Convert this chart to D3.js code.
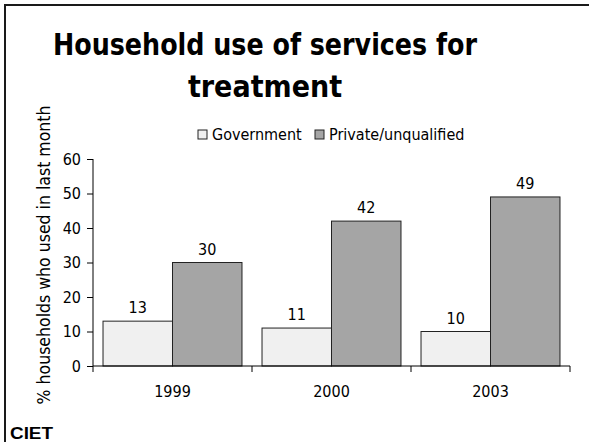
<!DOCTYPE html>
<html>
<head>
<meta charset="utf-8">
<script src="https://cdn.jsdelivr.net/npm/d3@7"></script>
<style>
  body { margin: 0; background: #fff; }
  svg { display: block; }
  text { font-family: "DejaVu Sans Condensed", "DejaVu Sans", sans-serif; font-stretch: condensed; fill: #000; }
</style>
</head>
<body>
<svg></svg>
<script>
// chart values
let years = ['1999', '2000', '2003'];
let seriesNames = ['Government', 'Private/unqualified'];
let government = [13, 11, 10];
let privateUnqualified = [30, 42, 49];
let yTickValues = [0, 10, 20, 30, 40, 50, 60];
let seriesColors = ['#f0f0f0', '#a5a5a5'];

let width = 589;
let height = 442;
let plotLeft = 93, plotRight = 570, plotTop = 159, plotBottom = 366;

let rows = years.map((y, i) => ({ year: y, values: [government[i], privateUnqualified[i]] }));

let svg = d3.select('svg')
  .attr('width', width)
  .attr('height', height);

// slide frame
svg.append('rect')
  .attr('x', 5).attr('y', 5)
  .attr('width', 700).attr('height', 500)
  .attr('fill', 'none')
  .attr('stroke', '#1a1a1a')
  .attr('stroke-width', 2);

// title
let title = svg.append('text')
  .attr('text-anchor', 'middle')
  .style('font-size', '30px')
  .style('font-weight', 'bold');
title.append('tspan').attr('x', 265).attr('y', 55)
  .attr('textLength', 424).attr('lengthAdjust', 'spacingAndGlyphs')
  .text('Household use of services for');
title.append('tspan').attr('x', 265).attr('y', 97).text('treatment');

let x0 = d3.scaleBand()
  .domain(years)
  .range([plotLeft, plotRight])
  .paddingInner(0.126)
  .paddingOuter(0.063);

let x1 = d3.scaleBand()
  .domain(d3.range(seriesNames.length))
  .range([0, x0.bandwidth()]);

let yScale = d3.scaleLinear()
  .domain([0, 60])
  .range([plotBottom, plotTop]);

// bars
let groups = svg.selectAll('g.year')
  .data(rows)
  .enter()
  .append('g')
  .attr('class', 'year')
  .attr('transform', d => 'translate(' + x0(d.year) + ',0)');

groups.selectAll('rect')
  .data(d => d.values)
  .enter()
  .append('rect')
  .attr('x', (d, i) => x1(i))
  .attr('y', d => yScale(d))
  .attr('width', x1.bandwidth())
  .attr('height', d => yScale(0) - yScale(d))
  .attr('fill', (d, i) => seriesColors[i])
  .attr('stroke', '#222')
  .attr('stroke-width', 1);

groups.selectAll('text.val')
  .data(d => d.values)
  .enter()
  .append('text')
  .attr('class', 'val')
  .attr('x', (d, i) => x1(i) + x1.bandwidth() / 2)
  .attr('y', d => yScale(d) - 8)
  .attr('text-anchor', 'middle')
  .style('font-size', '16px')
  .text(d => d);

// y axis
let yAxis = d3.axisLeft(yScale)
  .tickValues(yTickValues)
  .tickSize(6)
  .tickPadding(6);

let gy = svg.append('g')
  .attr('transform', 'translate(' + plotLeft + ',0)')
  .call(yAxis);
gy.attr('font-family', null).attr('font-size', null);
gy.select('.domain').attr('d', 'M0,' + plotTop + 'V' + plotBottom);
gy.selectAll('text').style('font-size', '16px');

// x axis: labels at band centres, ticks on band boundaries
let xAxis = d3.axisBottom(x0).tickSize(0).tickPadding(20);
let gx = svg.append('g')
  .attr('transform', 'translate(0,' + plotBottom + ')')
  .call(xAxis);
gx.attr('font-family', null).attr('font-size', null);
gx.selectAll('text').style('font-size', '16px');
gx.select('.domain').attr('d', 'M' + plotLeft + ',0H' + plotRight);

let step = x0.step();
let boundaries = years.map(y => x0(y) - step * x0.paddingOuter()).concat([plotRight]);
gx.selectAll('line.bound')
  .data(boundaries)
  .enter()
  .append('line')
  .attr('class', 'bound')
  .attr('x1', d => d).attr('x2', d => d)
  .attr('y1', 0).attr('y2', 6)
  .attr('stroke', '#000');

// y label
svg.append('text')
  .attr('transform', 'translate(50,255) rotate(-90)')
  .attr('text-anchor', 'middle')
  .style('font-size', '17.5px')
  .text('% households who used in last month');

// legend
let legendX = [198, 315];
let legend = svg.selectAll('g.legend')
  .data(seriesNames)
  .enter()
  .append('g')
  .attr('class', 'legend')
  .attr('transform', (d, i) => 'translate(' + legendX[i] + ',130)');
legend.append('rect')
  .attr('width', 9).attr('height', 9)
  .attr('fill', (d, i) => seriesColors[i])
  .attr('stroke', '#222');
legend.append('text')
  .attr('x', 14)
  .attr('y', 9.5)
  .style('font-size', '16px')
  .text(d => d);

// footer
svg.append('text')
  .attr('x', 10)
  .attr('y', 439)
  .attr('textLength', 43)
  .attr('lengthAdjust', 'spacingAndGlyphs')
  .style('font-family', '"Liberation Sans", Arial, sans-serif')
  .style('font-stretch', 'normal')
  .style('font-weight', 'bold')
  .style('font-size', '16px')
  .text('CIET');
</script>
</body>
</html>
